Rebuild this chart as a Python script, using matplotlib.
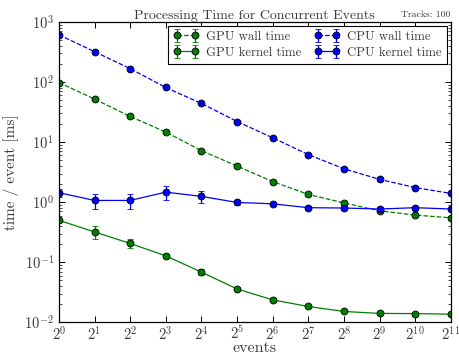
import matplotlib
matplotlib.use('Agg')
import matplotlib.pyplot as plt
import numpy as np

txt = '#3a3a3a'
plt.rcParams['font.family'] = ['cmr10', 'DejaVu Serif']
plt.rcParams['mathtext.fontset'] = 'cm'
plt.rcParams['axes.formatter.use_mathtext'] = True
plt.rcParams['xtick.direction'] = 'in'
plt.rcParams['ytick.direction'] = 'in'
plt.rcParams['xtick.top'] = True
plt.rcParams['ytick.right'] = True
plt.rcParams['text.color'] = txt
plt.rcParams['xtick.labelcolor'] = txt
plt.rcParams['ytick.labelcolor'] = txt
plt.rcParams['axes.labelcolor'] = txt

# number of concurrent events (powers of two)
events = [2 ** n for n in range(12)]

# time per event [ms]
gpu_wall = [98, 52, 26.7, 14.7, 7.2, 4.0, 2.2, 1.35, 0.97, 0.72, 0.61, 0.55]
gpu_wall_err = [1, 0.5, 0.3, 0.2, 0.1, 0.05, 0.03, 0.02, 0.02, 0.01, 0.01, 0.01]
gpu_kernel = [0.50, 0.32, 0.206, 0.128, 0.0686, 0.036, 0.0237, 0.0184, 0.0152, 0.0141, 0.0140, 0.0137]
gpu_kernel_err = [0.03, 0.075, 0.035, 0.01, 0.008, 0.003, 0.002, 0.001, 0.0005, 0.0005, 0.0005, 0.0005]
cpu_wall = [610, 320, 167, 81, 44, 22, 11.8, 6.2, 3.6, 2.4, 1.75, 1.4]
cpu_wall_err = [5, 3, 2, 1, 0.5, 0.3, 0.2, 0.1, 0.05, 0.03, 0.02, 0.02]
cpu_kernel = [1.44, 1.07, 1.07, 1.47, 1.25, 0.99, 0.94, 0.81, 0.80, 0.77, 0.81, 0.77]
cpu_kernel_err = [0.2, 0.3, 0.3, 0.4, 0.28, 0.1, 0.08, 0.04, 0.03, 0.03, 0.04, 0.03]

fig = plt.figure(figsize=(4.6, 3.59), dpi=100)
ax = fig.add_axes([0.128, 0.102, 0.852, 0.837])

style = dict(marker='o', markersize=5, markeredgecolor='k', markeredgewidth=0.6,
             capsize=2.5, linewidth=0.9, elinewidth=0.9, capthick=0.9)
ax.errorbar(events, gpu_wall, yerr=gpu_wall_err, color='g', ecolor='g',
            linestyle='--', label='GPU wall time', **style)
ax.errorbar(events, gpu_kernel, yerr=gpu_kernel_err, color='g', ecolor='g',
            linestyle='-', label='GPU kernel time', **style)
ax.errorbar(events, cpu_wall, yerr=cpu_wall_err, color='b', ecolor='b',
            linestyle='--', label='CPU wall time', **style)
ax.errorbar(events, cpu_kernel, yerr=cpu_kernel_err, color='b', ecolor='b',
            linestyle='-', label='CPU kernel time', **style)

ax.set_xscale('log', base=2)
ax.set_yscale('log')
ax.set_xlim(1, 2 ** 11)
ax.set_ylim(1e-2, 1e3)
ax.set_xticks(events)
ax.set_xticklabels([r'$2^{%d}$' % n for n in range(12)])
ax.tick_params(labelsize=10.5, length=4, width=0.7)
ax.tick_params(axis='x', pad=2)
ax.tick_params(which='minor', length=2, width=0.5)
ax.xaxis.set_minor_locator(matplotlib.ticker.NullLocator())
for s in ax.spines.values():
    s.set_linewidth(0.9)

ax.set_xlabel('events', fontsize=11.5, labelpad=-1)
ax.set_ylabel('time / event [ms]', fontsize=11, labelpad=4)
ax.set_title('Processing Time for Concurrent Events', fontsize=10, pad=2)
ax.text(1.0, 1.008, 'Tracks: 100', transform=ax.transAxes, ha='right',
        va='bottom', fontsize=7)

leg = ax.legend(loc='upper right', ncol=2, fontsize=9.2, numpoints=2,
                fancybox=False, framealpha=1, edgecolor='k',
                handlelength=2.0, columnspacing=1.0, borderaxespad=0.3,
                labelspacing=0.3, handletextpad=0.6)
leg.get_frame().set_linewidth(0.8)

fig.savefig('out.png', dpi=100)
